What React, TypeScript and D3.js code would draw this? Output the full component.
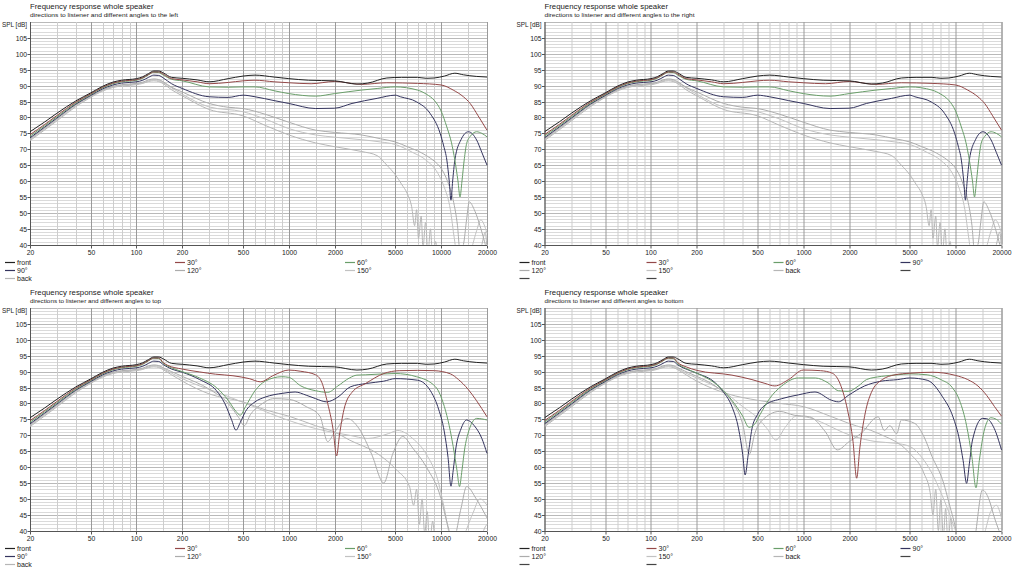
import { useEffect, useRef } from "react";
import * as d3 from "d3";

type Pt = [number, number];

const W = 1023;
const H = 569;

const freqLabels = [20, 50, 100, 200, 500, 1000, 2000, 5000, 10000, 20000];
const dbLabels = [40, 45, 50, 55, 60, 65, 70, 75, 80, 85, 90, 95, 100, 105];
const angles = ["front", "30°", "60°", "90°", "120°", "150°", "back"];
const colors = ["#222222", "#944848", "#6a9e6a", "#34345e", "#acacac", "#c2c2c2", "#b6b6b6"];

const titles = [
  "directions to listener and different angles to the left",
  "directions to listener and different angles to the right",
  "directions to listener and different angles to top",
  "directions to listener and different angles to bottom",
];

// woofer region, same for every direction set
const lowFront: Pt[] = [[20, 75.5], [25, 78.6], [30, 81.3], [40, 85.2], [50, 87.7], [60, 89.8], [70, 91.1], [80, 91.7], [100, 92.2], [110, 92.8], [120, 93.8], [130, 94.6], [140, 94.6]];
const low30: Pt[] = [[20, 74.6], [25, 77.8], [30, 80.6], [40, 84.8], [50, 87.4], [60, 89.5], [70, 90.8], [80, 91.4], [100, 91.9], [110, 92.5], [120, 93.5], [130, 94.3], [140, 94.3]];
const low60: Pt[] = [[20, 74.1], [25, 77.4], [30, 80.2], [40, 84.5], [50, 87.2], [60, 89.3], [70, 90.6], [80, 91.2], [100, 91.7], [110, 92.3], [120, 93.4], [130, 94.2], [140, 94.1]];
const low90: Pt[] = [[20, 73.6], [25, 77], [30, 79.8], [40, 84.2], [50, 86.9], [60, 89], [70, 90.2], [80, 90.8], [100, 91.2], [110, 91.7], [120, 92.6], [130, 93.3], [140, 93.2]];
const low120: Pt[] = [[20, 73.3], [25, 76.7], [30, 79.5], [40, 84], [50, 86.7], [60, 88.7], [70, 89.8], [80, 90.3], [100, 90.7], [110, 91.1], [120, 91.8], [130, 92.1], [140, 91.9]];
const low150: Pt[] = [[20, 73], [25, 76.4], [30, 79.2], [40, 83.7], [50, 86.5], [60, 88.5], [70, 89.6], [80, 90.1], [100, 90.5], [110, 90.9], [120, 91.5], [130, 91.8], [140, 91.6]];
const lowBack: Pt[] = [[20, 72.7], [25, 76.1], [30, 78.9], [40, 83.4], [50, 86.3], [60, 88.3], [70, 89.4], [80, 89.9], [100, 90.3], [110, 90.7], [120, 91.3], [130, 91.5], [140, 91.3]];

const front: Pt[] = [...lowFront, [150, 94], [170, 92.6], [200, 92.3], [250, 91.8], [300, 91.2], [400, 92.2], [500, 93], [600, 93.3], [800, 92.7], [1000, 92.2], [1350, 91.7], [2000, 91.5], [2800, 90.5], [3300, 90.8], [4400, 92.4], [5500, 92.6], [7000, 92.6], [8000, 92.3], [9000, 92.4], [10500, 93], [12300, 93.9], [14000, 93.4], [17000, 92.9], [20000, 92.7]];

// left / right
const hor30: Pt[] = [...low30, [150, 93.6], [170, 92.2], [200, 91.8], [250, 91.2], [300, 90.6], [400, 91], [500, 91.5], [600, 91.7], [800, 91.2], [1000, 90.9], [1400, 90.6], [2000, 91.3], [3000, 90.4], [4400, 90.9], [7000, 90.7], [10000, 90.2], [12000, 88.6], [14000, 86.5], [15500, 84.4], [17500, 80.5], [20000, 76]];
const hor60: Pt[] = [...low60, [150, 93.3], [170, 92], [200, 91.5], [300, 89.6], [400, 89.5], [500, 89.6], [600, 89.6], [800, 88.4], [1000, 87.5], [1500, 86.7], [2000, 87.5], [3000, 88.6], [3800, 89.1], [5000, 89.6], [7000, 88.6], [8000, 87.3], [9000, 85.4], [10000, 82], [10900, 77], [11700, 72], [12300, 66.6], [12900, 60], [13300, 55], [13700, 60], [14200, 67], [14700, 71.8], [15500, 74], [17100, 75.5], [18500, 75], [20000, 73.9]];
const hor90: Pt[] = [...low90, [150, 92.4], [170, 90.6], [200, 89.1], [300, 86.5], [400, 86.3], [500, 87], [600, 86.5], [800, 85.3], [1000, 84.4], [1500, 82.8], [2000, 82.9], [2600, 84.4], [3800, 86], [5000, 87], [5400, 86.5], [6900, 84.9], [8450, 81.3], [9850, 75], [10400, 71], [10900, 66.6], [11300, 60], [11600, 54], [11900, 60], [12300, 66.6], [13500, 73], [15100, 75.5], [17100, 72.9], [18500, 69], [20000, 65]];
const hor120: Pt[] = [...low120, [150, 91.2], [170, 89.5], [200, 88], [300, 84.4], [400, 83.2], [500, 82.8], [700, 81], [1000, 78.5], [1500, 76], [2000, 75.3], [3000, 74.5], [4000, 73.3], [5000, 72.3], [6000, 70.8], [7000, 69.5], [8000, 68], [9000, 66.3], [10000, 64], [11000, 60], [12000, 54], [12800, 46], [13300, 38], [14000, 40], [14700, 48], [15300, 53.5], [16500, 51], [18500, 44], [20000, 38]];
const hor150: Pt[] = [...low150, [150, 90.9], [170, 89.3], [200, 87.3], [300, 83.3], [500, 81.8], [700, 79.5], [1000, 76.5], [1500, 74.5], [2000, 73.8], [3000, 73], [4000, 72.3], [5000, 71.5], [6500, 69], [8000, 66.5], [9500, 62.5], [10500, 58], [11500, 51], [12200, 42], [12800, 36], [15500, 38], [17000, 44], [18200, 47.8], [20000, 43.6]];
const horBack: Pt[] = [...lowBack, [150, 90.6], [170, 88.7], [200, 86.8], [300, 82.5], [500, 80.5], [700, 77.5], [1000, 74.5], [1500, 72], [2000, 70.8], [3000, 69.3], [3800, 68], [4400, 65], [5000, 62], [5500, 59], [6000, 56], [6400, 52], [6700, 46], [6900, 51], [7100, 42], [7400, 49], [7600, 39], [7900, 47], [8200, 37], [8500, 45], [8800, 36], [9200, 41], [9600, 34], [17000, 34], [18500, 40], [19500, 44], [20000, 38]];

// upwards
const top30: Pt[] = [...low30, [150, 92.8], [160, 92], [200, 90.8], [260, 89.9], [330, 89.2], [430, 88.7], [550, 87.8], [650, 86.8], [800, 88.9], [1000, 90.5], [1200, 90.1], [1500, 89], [1650, 86.5], [1800, 80], [1950, 72], [2060, 63.5], [2150, 70], [2300, 78], [2600, 83.5], [3200, 86.3], [4200, 89.4], [5300, 90.3], [7000, 90.4], [9000, 90.3], [11500, 89.3], [13000, 87.5], [15000, 84.5], [17000, 81], [20000, 75.8]];
const top60: Pt[] = [...low60, [150, 92.6], [170, 91.2], [200, 90], [260, 88], [335, 85], [400, 81], [450, 77.5], [480, 76.3], [520, 79], [600, 84], [700, 87], [900, 88.4], [1000, 88.2], [1200, 85.5], [1500, 84], [1800, 83.5], [2100, 85.5], [2500, 88], [2800, 88.9], [3200, 89], [5000, 89.4], [6900, 88.4], [9200, 85.2], [10500, 79], [11300, 73], [12000, 66.4], [12700, 59], [13200, 53.9], [13700, 59], [14300, 66], [15000, 70.5], [17100, 75.3], [20000, 74.8]];
const top90: Pt[] = [...low90, [150, 92.2], [170, 90.8], [200, 89.8], [260, 87.5], [335, 84], [380, 80], [420, 75], [450, 71.6], [480, 74], [520, 77.5], [600, 80.5], [700, 82], [915, 83.2], [1100, 83.6], [1300, 82.6], [1500, 81.5], [1770, 80.5], [2100, 82], [2530, 85.2], [3250, 86.3], [4200, 87], [5000, 87.8], [7000, 87.3], [8500, 84], [9500, 79], [10500, 71], [11100, 63], [11600, 54], [12000, 59], [12500, 66], [13500, 72], [14700, 74.8], [16500, 73], [18500, 69], [20000, 64.3]];
const top120: Pt[] = [...low120, [150, 91.2], [170, 90], [200, 88.5], [300, 84.5], [400, 80], [470, 75.5], [510, 73], [560, 76.5], [650, 79.5], [800, 81.5], [1000, 81.3], [1300, 79], [1600, 76], [1800, 68], [2000, 71], [2400, 75.3], [2900, 72], [3500, 64], [4200, 55], [4800, 64], [5600, 69.6], [6500, 66], [8000, 60], [10000, 50], [11000, 42], [12000, 37], [13500, 47], [14700, 53.9], [17000, 50], [20000, 44]];
const top150: Pt[] = [...low150, [150, 90.9], [170, 89.5], [200, 87.8], [260, 85.5], [335, 83.6], [554, 79.5], [915, 75.3], [1500, 72.1], [2500, 70], [3300, 69], [4500, 70.5], [5200, 71.5], [6500, 69], [8000, 64], [9500, 56], [10500, 47], [11500, 38], [13000, 36], [16000, 45], [18000, 50], [20000, 48]];
const topBack: Pt[] = [...lowBack, [150, 90.6], [170, 89], [200, 87], [300, 83], [500, 80.5], [700, 78], [1000, 76], [1500, 73], [2000, 71], [2500, 68.5], [3800, 64.3], [5100, 59.1], [6200, 53.9], [6600, 48], [6900, 53], [7200, 42], [7500, 50], [7800, 39], [8100, 46], [8400, 36], [8800, 43], [9200, 35], [18000, 35], [19000, 40], [20000, 42]];

// downwards
const bot30: Pt[] = [...low30, [150, 92.8], [170, 91.5], [200, 90.4], [340, 88.9], [460, 87.5], [560, 86.3], [650, 85.5], [800, 87.5], [1000, 90.5], [1300, 90.3], [1550, 89.5], [1750, 86], [1950, 78], [2120, 68], [2240, 56.5], [2350, 66], [2550, 77], [2800, 83.5], [3300, 87.5], [4000, 89], [5000, 89.5], [7000, 89.8], [10000, 88.8], [12000, 87.5], [14000, 85.5], [16000, 82.5], [18000, 79], [20000, 76]];
const bot60: Pt[] = [...low60, [150, 92.5], [170, 91], [200, 89.5], [264, 86.3], [340, 81], [400, 76], [440, 72.5], [480, 73.5], [520, 76.5], [600, 81.5], [722, 85.5], [928, 88], [1200, 88], [1450, 86.5], [1700, 84], [1970, 83.8], [2300, 85.5], [2600, 87.5], [3250, 88.5], [4170, 89], [5000, 89.3], [6500, 89], [8000, 87.5], [9500, 85], [10600, 81], [11800, 73], [12800, 63], [13600, 53.5], [14300, 62], [15500, 72], [17000, 75.5], [18500, 75], [20000, 73.5]];
const bot90: Pt[] = [...low90, [150, 92.1], [170, 90.8], [200, 89.5], [264, 86.5], [300, 83.5], [340, 79], [376, 72], [400, 64], [415, 57.5], [435, 64], [460, 72], [500, 76.5], [561, 79.5], [722, 81.5], [928, 82.7], [1193, 83.6], [1533, 81], [1700, 80.5], [1970, 82.5], [2527, 85.5], [3248, 87], [4170, 87.5], [5000, 88], [6500, 87.3], [8200, 82.1], [9600, 75.8], [10600, 68.5], [11200, 62], [11800, 54.9], [12300, 61], [12900, 68.5], [15000, 75.3], [16000, 75.2], [17900, 72.2], [20000, 65.4]];
const bot120: Pt[] = [...low120, [150, 91.2], [170, 90], [200, 88.5], [264, 85.5], [340, 80.5], [400, 73.5], [442, 64], [480, 70.5], [560, 75.5], [700, 77.5], [870, 76.3], [1100, 75.8], [1400, 71], [1670, 65.4], [2000, 68], [2400, 70.6], [3100, 75.8], [3400, 71.5], [3700, 73], [4100, 70.5], [4400, 74.8], [5400, 73.7], [6200, 69.5], [7000, 63.3], [8200, 56], [9500, 45], [10500, 38], [13000, 36], [15000, 52.8], [16500, 50], [18000, 44], [20000, 38]];
const bot150: Pt[] = [...low150, [150, 90.9], [170, 89.5], [200, 88], [300, 83.8], [400, 79], [500, 75.5], [580, 72], [660, 68.5], [760, 72.5], [900, 76], [1100, 75.5], [1400, 73.5], [1800, 71], [2200, 69.5], [3000, 68], [4000, 67.5], [5000, 66.5], [6000, 63], [7000, 58], [8000, 52], [9000, 46], [10000, 40], [11000, 36], [15000, 38], [17000, 46], [18500, 48], [20000, 44]];
const botBack: Pt[] = [...lowBack, [150, 90.6], [170, 89], [200, 87], [320, 83], [500, 81], [700, 80], [1000, 79], [1500, 76], [2000, 73.7], [3100, 70.6], [5000, 64.3], [6200, 58], [6800, 52], [7100, 45], [7400, 53], [7700, 40], [8000, 50], [8300, 38], [8600, 47], [8900, 36], [9300, 44], [9700, 35], [19000, 35], [20000, 40]];

const horizontal = [front, hor30, hor60, hor90, hor120, hor150, horBack];
const upward = [front, top30, top60, top90, top120, top150, topBack];
const downward = [front, bot30, bot60, bot90, bot120, bot150, botBack];

const panels = [
  { dx: 0, dy: 0, sub: titles[0], subW: 148, series: horizontal, cols: 3, slots: angles },
  { dx: 514.5, dy: 0, sub: titles[1], subW: 150, series: horizontal, cols: 4, slots: [...angles, "", "", ""] },
  { dx: 0, dy: 286, sub: titles[2], subW: 131, series: upward, cols: 3, slots: angles },
  { dx: 514.5, dy: 286, sub: titles[3], subW: 139, series: downward, cols: 4, slots: [...angles, "", "", ""] },
];

const FONT = "'Liberation Sans', Arial, sans-serif";

export default function App() {
  const svgRef = useRef<SVGSVGElement>(null);

  useEffect(() => {
    if (!svgRef.current) return;
    const svg = d3.select(svgRef.current);
    svg.selectAll("*").remove();
    svg.append("rect").attr("width", W).attr("height", H).attr("fill", "#fff");

    const left = 30;
    const right = 487;
    const top = 22;
    const bottom = 244.7;

    const x = d3.scaleLog().domain([20, 20000]).range([left, right]);
    const y = d3.scaleLinear().domain([40, 110]).range([bottom, top]);

    // vertical grid: 1, 1.5, 2..9 per decade
    const gridFreqs: number[] = [];
    [10, 100, 1000, 10000].forEach((dec) => {
      [1, 1.5, 2, 3, 4, 5, 6, 7, 8, 9].forEach((m) => {
        const f = dec * m;
        if (f >= 20 && f <= 20000) gridFreqs.push(f);
      });
    });
    gridFreqs.push(20000);

    const line = d3
      .line<Pt>()
      .x((d) => x(d[0]))
      .y((d) => y(d[1]))
      .curve(d3.curveMonotoneX);

    panels.forEach((p, pi) => {
      const g = svg.append("g").attr("transform", `translate(${p.dx},${p.dy})`);

      // titles
      g.append("text")
        .attr("x", 30)
        .attr("y", 8.5)
        .attr("font-family", FONT)
        .attr("font-size", 7.8)
        .attr("fill", "#222")
        .text("Frequency response whole speaker");
      g.append("text")
        .attr("x", 30)
        .attr("y", 16.8)
        .attr("font-family", FONT)
        .attr("font-size", 6.2)
        .attr("fill", "#222")
        .attr("textLength", p.subW)
        .attr("lengthAdjust", "spacingAndGlyphs")
        .text(p.sub);
      g.append("text")
        .attr("x", 2)
        .attr("y", 26.5)
        .attr("font-family", FONT)
        .attr("font-size", 6.4)
        .attr("fill", "#222")
        .text("SPL [dB]");

      // horizontal grid every 1 dB
      d3.range(40, 111).forEach((v) => {
        const yy = Math.round(y(v)) + 0.5;
        g.append("line")
          .attr("x1", left)
          .attr("x2", right)
          .attr("y1", yy)
          .attr("y2", yy)
          .attr("stroke", v % 5 === 0 ? "#b9b9b9" : "#dadada")
          .attr("stroke-width", 1);
      });

      gridFreqs.forEach((f) => {
        const xx = Math.round(x(f)) + 0.5;
        const major = freqLabels.includes(f);
        g.append("line")
          .attr("x1", xx)
          .attr("x2", xx)
          .attr("y1", top)
          .attr("y2", bottom)
          .attr("stroke", major ? "#9a9a9a" : "#cdcdcd")
          .attr("stroke-width", 1);
      });

      // axes
      const xl = Math.round(left) + 0.5;
      const yb = Math.round(bottom) + 0.5;
      g.append("line").attr("x1", xl).attr("x2", xl).attr("y1", top).attr("y2", yb).attr("stroke", "#555");
      g.append("line").attr("x1", xl).attr("x2", right).attr("y1", yb).attr("y2", yb).attr("stroke", "#555");

      dbLabels.forEach((v) => {
        const yy = Math.round(y(v)) + 0.5;
        g.append("line").attr("x1", xl - 3).attr("x2", xl).attr("y1", yy).attr("y2", yy).attr("stroke", "#555");
        g.append("text")
          .attr("x", 27)
          .attr("y", yy + 2.4)
          .attr("text-anchor", "end")
          .attr("font-family", FONT)
          .attr("font-size", 6.8)
          .attr("fill", "#222")
          .text(v);
      });

      freqLabels.forEach((f) => {
        const xx = Math.round(x(f)) + 0.5;
        g.append("line").attr("x1", xx).attr("x2", xx).attr("y1", yb).attr("y2", yb + 3).attr("stroke", "#555");
        g.append("text")
          .attr("x", xx)
          .attr("y", bottom + 9.8)
          .attr("text-anchor", "middle")
          .attr("font-family", FONT)
          .attr("font-size", 6.8)
          .attr("fill", "#222")
          .text(f);
      });

      // curves
      const clipId = `plot-clip-${pi}`;
      g.append("clipPath")
        .attr("id", clipId)
        .append("rect")
        .attr("x", left)
        .attr("y", top)
        .attr("width", right - left + 1)
        .attr("height", bottom - top);

      const curves = g.append("g").attr("clip-path", `url(#${clipId})`);
      p.series
        .map((s, i) => ({ s, i }))
        .reverse()
        .forEach(({ s, i }) => {
          curves
            .append("path")
            .datum(s)
            .attr("d", line)
            .attr("fill", "none")
            .attr("stroke", colors[i])
            .attr("stroke-width", 1);
        });

      // legend
      const colW = p.cols === 3 ? 170 : 127;
      p.slots.forEach((label, i) => {
        const cx = 5 + (i % p.cols) * colW;
        const cy = 262 + Math.floor(i / p.cols) * 8;
        g.append("line")
          .attr("x1", cx)
          .attr("x2", cx + 10)
          .attr("y1", cy + 0.5)
          .attr("y2", cy + 0.5)
          .attr("stroke", label ? colors[angles.indexOf(label)] : "#444")
          .attr("stroke-width", 1.2);
        if (label) {
          g.append("text")
            .attr("x", cx + 12)
            .attr("y", cy + 2.6)
            .attr("font-family", FONT)
            .attr("font-size", 7)
            .attr("fill", "#222")
            .text(label);
        }
      });
    });
  }, []);

  return (
    <div style={{ position: "absolute", left: 0, top: 0 }}>
      <svg ref={svgRef} width={W} height={H} style={{ display: "block" }} />
    </div>
  );
}
